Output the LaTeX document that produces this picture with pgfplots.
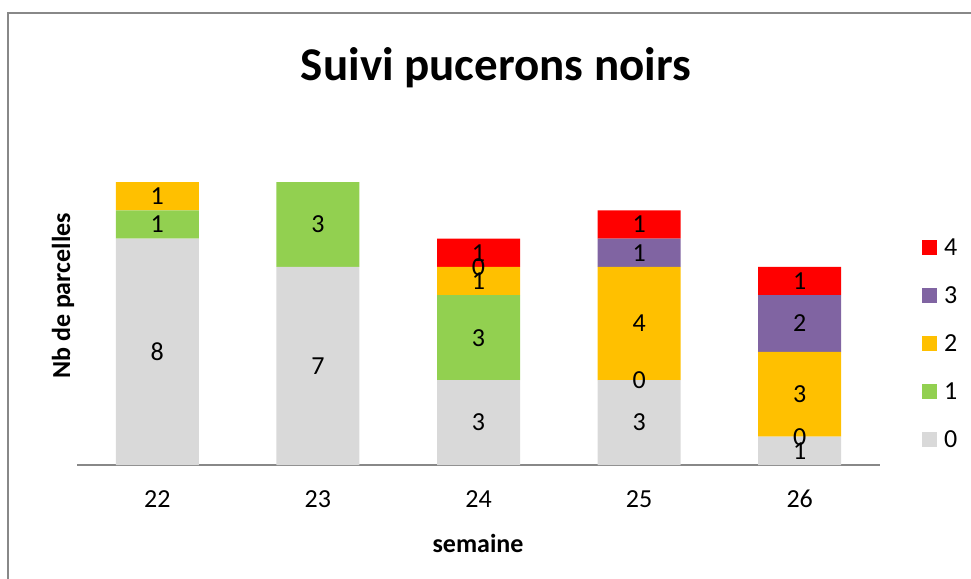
\documentclass[border=0pt]{standalone}
\usepackage{fontspec}
\setmainfont{Carlito}
\usepackage{pgfplots}
\pgfplotsset{compat=1.18}
\definecolor{c0}{HTML}{D9D9D9}
\definecolor{c1}{HTML}{92D050}
\definecolor{c2}{HTML}{FFC000}
\definecolor{c3}{HTML}{8064A2}
\definecolor{c4}{HTML}{FF0000}
\definecolor{frame}{HTML}{888888}
\pgfplotsset{
  common/.style={
    at={(77pt,-465pt)}, anchor=south west,
    scale only axis, width=803pt, height=283pt,
    xmin=21.5, xmax=26.5, ymin=0, ymax=10,
    clip=false,
    ybar stacked, bar width=83pt,
  }
}
\begin{document}
\begin{tikzpicture}[x=1pt,y=1pt]
\useasboundingbox (0,0) rectangle (971,-578);
\draw[line width=2pt, color=frame] (7.7,-13.2) rectangle (990,-600);
\node[font=\fontsize{47}{56}\selectfont\bfseries] at (496,-68) {Suivi pucerons noirs};
\node[font=\fontsize{26}{31}\selectfont\bfseries, rotate=90] at (63,-296) {Nb de parcelles};
\node[font=\fontsize{26}{31}\selectfont\bfseries] at (478,-543) {semaine};
\begin{axis}[
  common,
  axis x line=bottom, axis y line=none,
  x axis line style={-, draw=frame, line width=2pt},
  major tick length=0pt,
  xtick={22,23,24,25,26},
  ytick=\empty,
  /pgf/number format/assume math mode=true,
  /pgf/number format/1000 sep={},
  xticklabel style={font=\fontsize{26}{31}\selectfont, anchor=base, inner sep=0pt, yshift=-42pt},
  legend image code/.code={\fill[#1] (0pt,-7.5pt) rectangle (15pt,7.5pt);},
  reverse legend,
  legend cell align=left,
  legend style={font=\fontsize{26}{31}\selectfont, draw=none, fill=none,
    inner sep=0pt, outer sep=0pt, at={(1.0523,0.4311)}, anchor=west,
    row sep=31pt, nodes={inner sep=0pt, text height=17pt, text depth=0pt},
    /tikz/every odd column/.append style={column sep=7pt}},
]
\addplot[fill=c0, draw=none] coordinates {(22,8) (23,7) (24,3) (25,3) (26,1)};
\addplot[fill=c1, draw=none] coordinates {(22,1) (23,3) (24,3) (25,0) (26,0)};
\addplot[fill=c2, draw=none] coordinates {(22,1) (23,0) (24,1) (25,4) (26,3)};
\addplot[fill=c3, draw=none] coordinates {(22,0) (23,0) (24,0) (25,1) (26,2)};
\addplot[fill=c4, draw=none] coordinates {(22,0) (23,0) (24,1) (25,1) (26,1)};
\legend{0,1,2,3,4}
\end{axis}
\begin{axis}[
  common, hide axis,
  point meta=explicit symbolic,
  nodes near coords,
  nodes near coords align={center},
  every node near coord/.append style={font=\fontsize{26}{31}\selectfont, text=black, anchor=center},
]
\addplot[fill=none, draw=none] coordinates {(22,8) [8] (23,7) [7] (24,3) [3] (25,3) [3] (26,1) [1]};
\addplot[fill=none, draw=none] coordinates {(22,1) [1] (23,3) [3] (24,3) [3] (25,0.001) [0] (26,0.001) [0]};
\addplot[fill=none, draw=none] coordinates {(22,1) [1] (23,0) [{}] (24,1) [1] (25,4) [4] (26,3) [3]};
\addplot[fill=none, draw=none] coordinates {(22,0) [{}] (23,0) [{}] (24,0.001) [0] (25,1) [1] (26,2) [2]};
\addplot[fill=none, draw=none] coordinates {(22,0) [{}] (23,0) [{}] (24,1) [1] (25,1) [1] (26,1) [1]};
\end{axis}
\end{tikzpicture}
\end{document}
